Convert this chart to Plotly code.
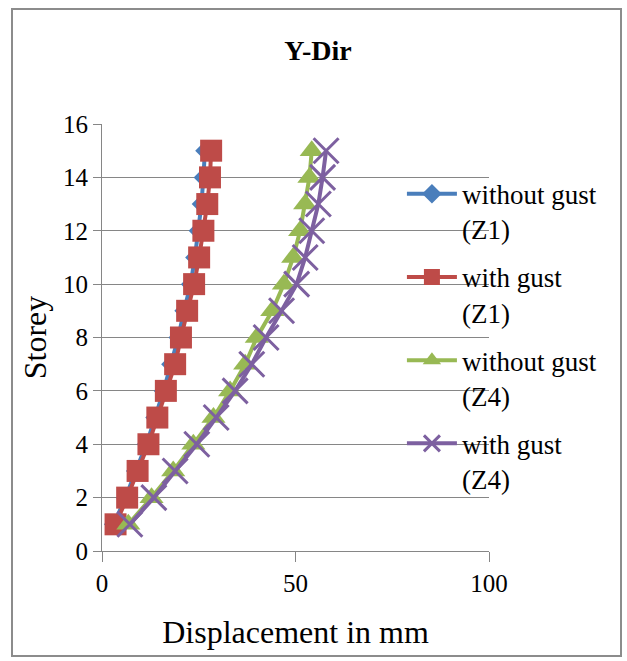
import plotly.graph_objects as go

storeys = list(range(1, 16))
without_gust_z1 = [3.0, 6.1, 8.7, 11.5, 13.7, 15.9, 17.8, 19.7, 21.2, 22.9, 24.0, 24.9, 25.7, 26.2, 26.6]
with_gust_z1 = [3.5, 6.5, 9.2, 12.0, 14.3, 16.5, 18.9, 20.4, 22.0, 23.8, 25.1, 26.2, 27.2, 27.9, 28.2]
without_gust_z4 = [6.8, 12.8, 18.4, 23.6, 28.8, 33.1, 37.0, 40.0, 44.0, 47.0, 49.4, 51.2, 52.5, 53.6, 54.2]
with_gust_z4 = [7.2, 13.4, 18.9, 24.5, 29.5, 34.4, 38.7, 42.4, 46.4, 50.3, 52.5, 54.2, 55.9, 57.0, 57.9]

names = ["without gust<br>(Z1)", "with gust<br>(Z1)", "without gust<br>(Z4)", "with gust<br>(Z4)"]
FONT = "Liberation Serif, Times New Roman, serif"
GRID = "#868686"

fig = go.Figure()
fig.add_trace(go.Scatter(x=without_gust_z1, y=storeys, name=names[0], mode="lines+markers",
                         line=dict(color="#4A7EBB", width=4),
                         marker=dict(symbol="diamond", size=15, color="#4A7EBB"), legendgroup="a"))
fig.add_trace(go.Scatter(x=with_gust_z1, y=storeys, name=names[1], mode="lines+markers",
                         line=dict(color="#BE4B48", width=4),
                         marker=dict(symbol="square", size=22, color="#BE4B48"), legendgroup="b"))
fig.add_trace(go.Scatter(x=without_gust_z4, y=storeys, name=names[2], mode="lines+markers",
                         line=dict(color="#98B954", width=4),
                         marker=dict(symbol="triangle-up", size=21, color="#98B954"), legendgroup="c"))
fig.add_trace(go.Scatter(x=with_gust_z4, y=storeys, name=names[3], mode="lines+markers",
                         line=dict(color="#7D60A0", width=4),
                         marker=dict(symbol="x-thin", size=25, color="#7D60A0",
                                     line=dict(width=3, color="#7D60A0")), legendgroup="d"))

fig.update_layout(
    width=627, height=661,
    margin=dict(l=102, r=138, t=124, b=110),
    paper_bgcolor="white", plot_bgcolor="white",
    font=dict(family=FONT, color="black", size=25),
    title=dict(text="<b>Y-Dir</b>", x=318 / 627, xanchor="center",
               y=1 - 50 / 661, yanchor="middle", font=dict(size=28, family=FONT)),
    showlegend=True,
    legend=dict(x=0.775, xanchor="left", y=0.893, yanchor="top", bgcolor="rgba(0,0,0,0)",
                font=dict(size=27, family=FONT), valign="top", tracegroupgap=10,
                itemwidth=50),
    shapes=[dict(type="rect", xref="paper", yref="paper",
                 x0=(12 - 102) / 387, x1=(621 - 102) / 387,
                 y0=(551 - 656) / 427, y1=(551 - 9) / 427,
                 line=dict(color="#8c8c8c", width=2), fillcolor="rgba(0,0,0,0)", layer="below")],
)
fig.update_xaxes(range=[0, 100], tickvals=[0, 50, 100], showgrid=False, zeroline=False,
                 showline=True, linecolor=GRID, linewidth=1, ticks="outside", ticklen=10,
                 tickcolor=GRID, tickfont=dict(size=25, family=FONT),
                 title=dict(text="Displacement in mm", font=dict(size=32, family=FONT), standoff=24))
fig.update_yaxes(range=[0, 16], dtick=2, showgrid=True, gridcolor=GRID, gridwidth=1, zeroline=False,
                 showline=True, linecolor=GRID, linewidth=1, ticks="outside", ticklen=8,
                 tickcolor=GRID, tickfont=dict(size=25, family=FONT),
                 title=dict(text="Storey", font=dict(size=32, family=FONT), standoff=6))

fig.write_html("out.html")
